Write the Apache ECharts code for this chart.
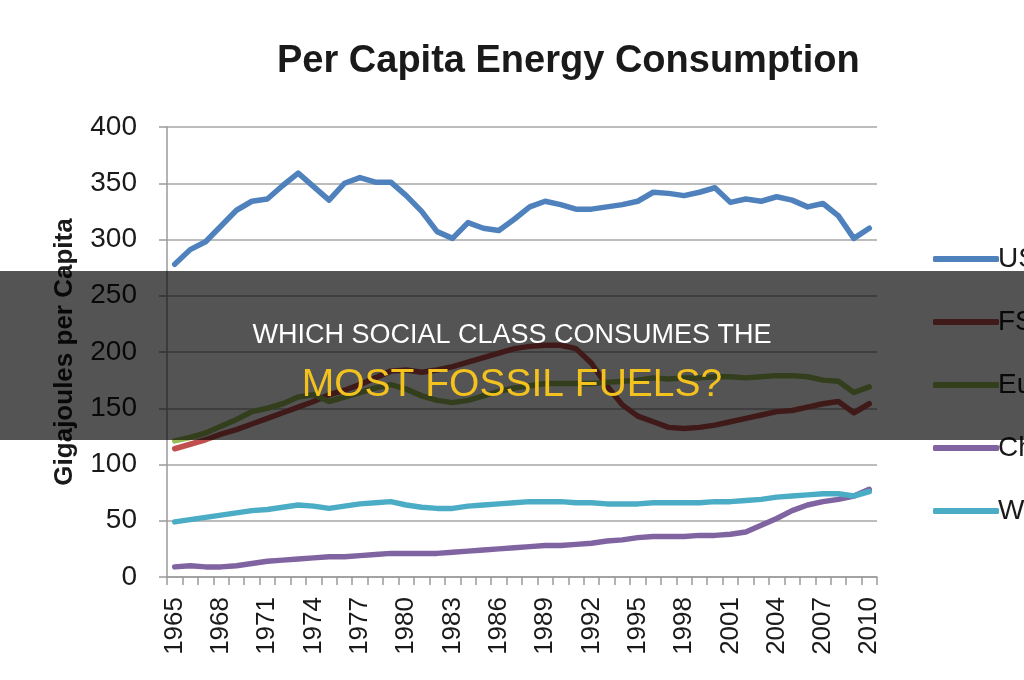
<!DOCTYPE html>
<html>
<head>
<meta charset="utf-8">
<script src="https://cdn.jsdelivr.net/npm/echarts@6/dist/echarts.min.js"></script>
<style>
  html, body { margin: 0; padding: 0; background: #fff; }
  #chart { width: 1024px; height: 680px; }
</style>
</head>
<body>
<div id="chart"></div>
<script>
  // years 1965 - 2010
  var years = [];
  for (var y = 1965; y <= 2010; y++) years.push(String(y));

  var seriesNames = ['US', 'FSU', 'Europe', 'China', 'World'];

  var usData = [278, 291, 298, 312, 326, 334, 336, 348, 359, 347,
    335, 350, 355, 351, 351, 339, 325, 307, 301, 315,
    310, 308, 318, 329, 334, 331, 327, 327, 329, 331,
    334, 342, 341, 339, 342, 346, 333, 336, 334, 338,
    335, 329, 332, 321, 301, 310];
  var fsuData = [114, 118, 122, 127, 131, 136, 141, 146, 151, 156,
    162, 166, 171, 177, 183, 184, 182, 184, 187, 191,
    195, 199, 203, 205, 206, 206, 203, 190, 170, 153,
    143, 138, 133, 132, 133, 135, 138, 141, 144, 147,
    148, 151, 154, 156, 146, 154];
  var europeData = [121, 124, 128, 134, 140, 147, 150, 154, 160, 162,
    156, 160, 164, 168, 171, 167, 161, 157, 155, 157,
    161, 165, 168, 170, 172, 172, 172, 172, 173, 174,
    175, 177, 176, 177, 177, 178, 178, 177, 178, 179,
    179, 178, 175, 174, 164, 169];
  var chinaData = [9, 10, 9, 9, 10, 12, 14, 15, 16, 17,
    18, 18, 19, 20, 21, 21, 21, 21, 22, 23,
    24, 25, 26, 27, 28, 28, 29, 30, 32, 33,
    35, 36, 36, 36, 37, 37, 38, 40, 46, 52,
    59, 64, 67, 69, 72, 78];
  var worldData = [49, 51, 53, 55, 57, 59, 60, 62, 64, 63,
    61, 63, 65, 66, 67, 64, 62, 61, 61, 63,
    64, 65, 66, 67, 67, 67, 66, 66, 65, 65,
    65, 66, 66, 66, 66, 67, 67, 68, 69, 71,
    72, 73, 74, 74, 72, 76];

  var colors = ['#4f81bd', '#c0504d', '#9bbb59', '#8064a2', '#4bacc6'];
  var allData = [usData, fsuData, europeData, chinaData, worldData];

  var myChart = echarts.init(document.getElementById('chart'));

  var series = seriesNames.map(function (name, i) {
    return {
      name: name,
      type: 'line',
      symbol: 'none',
      data: allData[i],
      lineStyle: { width: 5.5, color: colors[i], cap: 'round', join: 'round' },
      itemStyle: { color: colors[i] }
    };
  });

  myChart.setOption({
    animation: false,
    backgroundColor: '#fff',
    color: colors,
    title: {
      text: 'Per Capita Energy Consumption',
      left: 272,
      top: 38,
      textStyle: {
        fontFamily: 'Liberation Sans',
        fontWeight: 'bold',
        fontSize: 38,
        color: '#1a1a1a'
      }
    },
    legend: {
      orient: 'vertical',
      left: 928,
      top: 240,
      icon: 'roundRect',
      itemWidth: 66,
      itemHeight: 6,
      itemGap: 35,
      textStyle: {
        fontFamily: 'Liberation Sans',
        fontSize: 28,
        color: '#1a1a1a',
        padding: [0, 0, 0, -6]
      },
      data: seriesNames
    },
    grid: {
      left: 167,
      right: 147,
      top: 127,
      bottom: 103
    },
    xAxis: {
      type: 'category',
      data: years,
      boundaryGap: true,
      axisLine: { lineStyle: { color: '#9a9a9a', width: 1.5 } },
      axisTick: { show: true, interval: 0, length: 8, lineStyle: { color: '#9a9a9a', width: 1.5 } },
      axisLabel: {
        interval: 2,
        rotate: 90,
        margin: 20,
        fontFamily: 'Liberation Sans',
        fontSize: 26,
        color: '#1a1a1a'
      }
    },
    yAxis: {
      type: 'value',
      min: 0,
      max: 400,
      interval: 50,
      name: 'Gigajoules per Capita',
      nameLocation: 'middle',
      nameGap: 89,
      nameTextStyle: {
        fontFamily: 'Liberation Sans',
        fontWeight: 'bold',
        fontSize: 26,
        color: '#1a1a1a'
      },
      axisLine: { show: true, lineStyle: { color: '#9a9a9a', width: 1.5 } },
      axisTick: { show: true, length: 8, lineStyle: { color: '#9a9a9a', width: 1.5 } },
      splitLine: { lineStyle: { color: '#a6a6a6', width: 1.5 } },
      axisLabel: {
        margin: 30,
        fontFamily: 'Liberation Sans',
        fontSize: 28,
        color: '#1a1a1a'
      }
    },
    graphic: [
      {
        type: 'rect',
        z: 100,
        shape: { x: 0, y: 271, width: 1024, height: 169 },
        style: { fill: 'rgba(0,0,0,0.67)' }
      },
      {
        type: 'text',
        z: 101,
        x: 512,
        y: 336,
        style: {
          text: 'WHICH SOCIAL CLASS CONSUMES THE',
          fill: '#ffffff',
          font: '27px "Liberation Sans"',
          textAlign: 'center',
          textVerticalAlign: 'middle'
        }
      },
      {
        type: 'text',
        z: 101,
        x: 512,
        y: 385,
        style: {
          text: 'MOST FOSSIL FUELS?',
          fill: '#f4c21f',
          font: '39px "Liberation Sans"',
          textAlign: 'center',
          textVerticalAlign: 'middle'
        }
      }
    ],
    series: series
  });
</script>
</body>
</html>
